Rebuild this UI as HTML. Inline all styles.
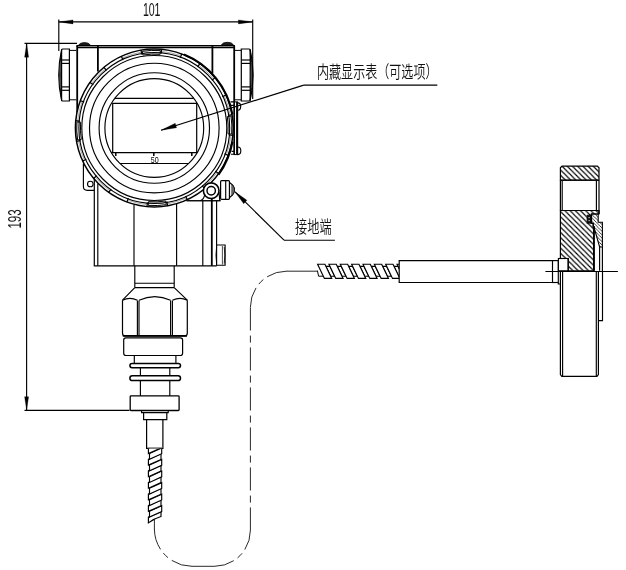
<!DOCTYPE html>
<html lang="zh-CN"><head><meta charset="utf-8"><title>drawing</title>
<style>
html,body{margin:0;padding:0;background:#fff;}
body{width:626px;height:570px;overflow:hidden;}
svg{display:block;}
svg *{vector-effect:none;}
</style></head>
<body>
<svg width="626" height="570" viewBox="0 0 626 570" stroke="#000" fill="none" stroke-linecap="butt" stroke-linejoin="miter">
<rect x="0" y="0" width="626" height="570" fill="#fff" stroke="none"/>
<g id="dims">
<line x1="58.80" y1="19.60" x2="58.80" y2="51.00" stroke-width="1.15" />
<line x1="252.70" y1="19.60" x2="252.70" y2="99.00" stroke-width="1.15" />
<line x1="58.70" y1="21.90" x2="252.70" y2="21.90" stroke-width="1.15" />
<path d="M58.7 21.9 L73 19.9 L73 23.9 Z" stroke-width="0.3" fill="#000" />
<path d="M252.7 21.9 L238.4 19.9 L238.4 23.9 Z" stroke-width="0.3" fill="#000" />
<line x1="24.50" y1="43.40" x2="77.00" y2="43.40" stroke-width="1.15" />
<line x1="24.50" y1="410.30" x2="129.50" y2="410.30" stroke-width="1.15" />
<line x1="26.60" y1="43.40" x2="26.60" y2="410.30" stroke-width="1.15" />
<path d="M26.6 43.6 L24.6 57.2 L28.6 57.2 Z" stroke-width="0.3" fill="#000" />
<path d="M26.6 410.1 L24.6 396.7 L28.6 396.7 Z" stroke-width="0.3" fill="#000" />
</g>
<g id="housing">
<path d="M78.6 45.2 Q80 42.6 84.5 42.6 Q89 42.6 90.4 45.2 Z" stroke-width="0.8" fill="#222" />
<path d="M221.2 45.2 Q222.6 42.3 227.4 42.3 Q232.2 42.3 233.6 45.2 Z" stroke-width="0.8" fill="#222" />
<line x1="76.40" y1="45.70" x2="234.90" y2="45.70" stroke-width="1.45" />
<line x1="77.00" y1="47.60" x2="234.00" y2="47.60" stroke-width="1.2" />
<line x1="77.20" y1="45.70" x2="77.20" y2="121.00" stroke-width="1.8" />
<line x1="234.20" y1="45.70" x2="234.20" y2="102.00" stroke-width="1.8" />
<line x1="97.90" y1="46.00" x2="97.90" y2="71.50" stroke-width="1.8" />
<line x1="212.40" y1="46.00" x2="212.40" y2="73.50" stroke-width="1.8" />
</g>
<g id="glands">
<path d="M69.4 50.4 H76.5 M69.4 99.8 H76.5" stroke-width="1.0" fill="none" />
<path d="M69.4 49.0 H62.6 Q61.6 49.0 61.6 50.0 V100.0 Q61.6 101.0 62.6 101.0 H69.4 Z" stroke-width="1.2" fill="none" />
<line x1="61.60" y1="60.00" x2="69.40" y2="60.00" stroke-width="1.2" />
<line x1="61.60" y1="63.40" x2="69.40" y2="63.40" stroke-width="1.2" />
<line x1="61.60" y1="86.90" x2="69.40" y2="86.90" stroke-width="1.2" />
<line x1="61.60" y1="90.30" x2="69.40" y2="90.30" stroke-width="1.2" />
<path d="M61.6 49.6 Q55.80 75.0 61.6 100.4" stroke-width="1.1" fill="none" />
<path d="M61.6 49.6 Q57.80 75.0 61.6 100.4" stroke-width="0.9" fill="none" />
<path d="M61.6 49.6 Q59.80 75.0 61.6 100.4" stroke-width="0.9" fill="none" />
<path d="M241.3 50.4 H234.8 M241.3 99.8 H234.8" stroke-width="1.0" fill="none" />
<path d="M241.3 49.0 H249.2 Q250.2 49.0 250.2 50.0 V100.0 Q250.2 101.0 249.2 101.0 H241.3 Z" stroke-width="1.2" fill="none" />
<line x1="250.20" y1="60.00" x2="241.30" y2="60.00" stroke-width="1.2" />
<line x1="250.20" y1="63.40" x2="241.30" y2="63.40" stroke-width="1.2" />
<line x1="250.20" y1="86.90" x2="241.30" y2="86.90" stroke-width="1.2" />
<line x1="250.20" y1="90.30" x2="241.30" y2="90.30" stroke-width="1.2" />
<path d="M250.2 49.6 Q256.00 75.0 250.2 100.4" stroke-width="1.1" fill="none" />
<path d="M250.2 49.6 Q254.00 75.0 250.2 100.4" stroke-width="0.9" fill="none" />
<path d="M250.2 49.6 Q252.00 75.0 250.2 100.4" stroke-width="0.9" fill="none" />
</g>
<g id="cover">
<circle cx="154.30" cy="128.00" r="78.90" stroke-width="0" fill="#fff"/>
<circle cx="154.30" cy="128.00" r="49.40" stroke-width="1.15" fill="none"/>
<circle cx="154.30" cy="128.00" r="55.20" stroke-width="1.15" fill="none"/>
<circle cx="154.30" cy="128.00" r="64.80" stroke-width="1.15" fill="none"/>
<circle cx="154.30" cy="128.00" r="72.50" stroke-width="1.15" fill="none"/>
<circle cx="154.30" cy="128.00" r="75.40" stroke-width="1.15" fill="none"/>
<circle cx="154.30" cy="128.00" r="78.90" stroke-width="1.5" fill="none"/>
<line x1="161.21" y1="53.52" x2="161.62" y2="49.14" stroke-width="1.25" />
<line x1="180.25" y1="57.85" x2="181.78" y2="53.72" stroke-width="1.25" />
<line x1="197.52" y1="66.95" x2="200.07" y2="63.36" stroke-width="1.25" />
<line x1="211.85" y1="80.22" x2="215.24" y2="77.41" stroke-width="1.25" />
<line x1="222.26" y1="96.74" x2="226.25" y2="94.90" stroke-width="1.25" />
<line x1="228.03" y1="115.40" x2="232.37" y2="114.66" stroke-width="1.25" />
<line x1="228.78" y1="134.91" x2="233.16" y2="135.32" stroke-width="1.25" />
<line x1="224.45" y1="153.95" x2="228.58" y2="155.48" stroke-width="1.25" />
<line x1="215.35" y1="171.22" x2="218.94" y2="173.77" stroke-width="1.25" />
<line x1="202.08" y1="185.55" x2="204.89" y2="188.94" stroke-width="1.25" />
<line x1="185.56" y1="195.96" x2="187.40" y2="199.95" stroke-width="1.25" />
<line x1="166.90" y1="201.73" x2="167.64" y2="206.07" stroke-width="1.25" />
<line x1="147.39" y1="202.48" x2="146.98" y2="206.86" stroke-width="1.25" />
<line x1="128.35" y1="198.15" x2="126.82" y2="202.28" stroke-width="1.25" />
<line x1="111.08" y1="189.05" x2="108.53" y2="192.64" stroke-width="1.25" />
<line x1="96.75" y1="175.78" x2="93.36" y2="178.59" stroke-width="1.25" />
<line x1="86.34" y1="159.26" x2="82.35" y2="161.10" stroke-width="1.25" />
<line x1="80.57" y1="140.60" x2="76.23" y2="141.34" stroke-width="1.25" />
<line x1="79.82" y1="121.09" x2="75.44" y2="120.68" stroke-width="1.25" />
<line x1="84.15" y1="102.05" x2="80.02" y2="100.52" stroke-width="1.25" />
<line x1="93.25" y1="84.78" x2="89.66" y2="82.23" stroke-width="1.25" />
<line x1="106.52" y1="70.45" x2="103.71" y2="67.06" stroke-width="1.25" />
<line x1="123.04" y1="60.04" x2="121.20" y2="56.05" stroke-width="1.25" />
<line x1="141.70" y1="54.27" x2="140.96" y2="49.93" stroke-width="1.25" />
<path d="M162.20 51.51 A76.9 76.9 0 0 1 180.22 55.60" stroke-width="0.5" fill="none" stroke="#555"/>
<path d="M199.39 65.71 A76.9 76.9 0 0 1 212.95 78.26" stroke-width="0.5" fill="none" stroke="#555"/>
<path d="M224.50 96.60 A76.9 76.9 0 0 1 229.96 114.25" stroke-width="0.5" fill="none" stroke="#555"/>
<path d="M230.97 115.99 A77.6 77.6 0 0 1 231.66 134.09" stroke-width="1.0" fill="none" />
<path d="M227.31 116.57 A73.9 73.9 0 0 1 227.97 133.80" stroke-width="1.0" fill="none" />
<line x1="227.31" y1="116.57" x2="230.97" y2="115.99" stroke-width="1.0" />
<line x1="227.97" y1="133.80" x2="231.66" y2="134.09" stroke-width="1.0" />
<path d="M230.79 135.90 A76.9 76.9 0 0 1 226.70 153.92" stroke-width="0.5" fill="none" stroke="#555"/>
<path d="M216.59 173.09 A76.9 76.9 0 0 1 204.04 186.65" stroke-width="0.5" fill="none" stroke="#555"/>
<path d="M185.70 198.20 A76.9 76.9 0 0 1 168.05 203.66" stroke-width="0.5" fill="none" stroke="#555"/>
<path d="M166.31 204.67 A77.6 77.6 0 0 1 148.21 205.36" stroke-width="1.0" fill="none" />
<path d="M165.73 201.01 A73.9 73.9 0 0 1 148.50 201.67" stroke-width="1.0" fill="none" />
<line x1="165.73" y1="201.01" x2="166.31" y2="204.67" stroke-width="1.0" />
<line x1="148.50" y1="201.67" x2="148.21" y2="205.36" stroke-width="1.0" />
<path d="M146.40 204.49 A76.9 76.9 0 0 1 128.38 200.40" stroke-width="0.5" fill="none" stroke="#555"/>
<path d="M109.21 190.29 A76.9 76.9 0 0 1 95.65 177.74" stroke-width="0.5" fill="none" stroke="#555"/>
<path d="M84.10 159.40 A76.9 76.9 0 0 1 78.64 141.75" stroke-width="0.5" fill="none" stroke="#555"/>
<path d="M77.63 140.01 A77.6 77.6 0 0 1 76.94 121.91" stroke-width="1.0" fill="none" />
<path d="M81.29 139.43 A73.9 73.9 0 0 1 80.63 122.20" stroke-width="1.0" fill="none" />
<line x1="81.29" y1="139.43" x2="77.63" y2="140.01" stroke-width="1.0" />
<line x1="80.63" y1="122.20" x2="76.94" y2="121.91" stroke-width="1.0" />
<path d="M77.81 120.10 A76.9 76.9 0 0 1 81.90 102.08" stroke-width="0.5" fill="none" stroke="#555"/>
<path d="M92.01 82.91 A76.9 76.9 0 0 1 104.56 69.35" stroke-width="0.5" fill="none" stroke="#555"/>
<path d="M122.90 57.80 A76.9 76.9 0 0 1 140.55 52.34" stroke-width="0.5" fill="none" stroke="#555"/>
<path d="M142.29 51.33 A77.6 77.6 0 0 1 160.39 50.64" stroke-width="1.0" fill="none" />
<path d="M142.87 54.99 A73.9 73.9 0 0 1 160.10 54.33" stroke-width="1.0" fill="none" />
<line x1="142.87" y1="54.99" x2="142.29" y2="51.33" stroke-width="1.0" />
<line x1="160.10" y1="54.33" x2="160.39" y2="50.64" stroke-width="1.0" />
<path d="M184.01 54.47 A79.3 79.3 0 0 1 232.40 114.23" stroke-width="2.0" fill="none" />
<path d="M232.40 141.77 A79.3 79.3 0 0 1 218.46 174.61" stroke-width="2.2" fill="none" />
</g>
<g id="display">
<line x1="114.75" y1="98.40" x2="193.85" y2="98.40" stroke-width="1.15" />
<line x1="111.46" y1="152.60" x2="197.14" y2="152.60" stroke-width="1.2" />
<line x1="119.95" y1="163.50" x2="188.65" y2="163.50" stroke-width="1.15" />
<path d="M112.7 152.6 V103.3 H196.7 V152.6" stroke-width="1.2" fill="none" />
<line x1="115.80" y1="152.60" x2="115.80" y2="156.00" stroke-width="1.5" />
<line x1="153.80" y1="152.60" x2="153.80" y2="156.00" stroke-width="1.5" />
<line x1="191.80" y1="152.60" x2="191.80" y2="156.00" stroke-width="1.5" />
</g>
<g id="latch">
<path d="M237.8 102.8 A2.9 3.7 0 0 1 237.8 110.2" stroke-width="1.15" fill="#fff" />
<path d="M237.8 147.0 A3.0 3.8 0 0 1 237.8 154.6" stroke-width="1.15" fill="#fff" />
<rect x="234.20" y="101.90" width="3.40" height="52.70" rx="0" stroke-width="1.0" fill="#fff"/>
<line x1="234.20" y1="101.90" x2="234.20" y2="154.60" stroke-width="1.5" />
<line x1="237.10" y1="101.90" x2="237.10" y2="154.60" stroke-width="2.0" />
<path d="M230.5 101.9 H234.2 M230.8 105.4 H234.2 M231 154.2 H234.2 M231.6 151.4 H234.2" stroke-width="1.15" fill="none" />
</g>
<g id="body">
<path d="M83.4 163.4 V186.5 Q83.4 190.3 87.2 190.3 H94.3" stroke-width="1.15" fill="none" />
<circle cx="90.30" cy="184.00" r="2.80" stroke-width="1.1" fill="none"/>
<line x1="94.30" y1="178.50" x2="94.30" y2="265.80" stroke-width="1.2" />
<line x1="97.80" y1="183.50" x2="97.80" y2="265.80" stroke-width="1.15" />
<line x1="134.00" y1="204.50" x2="134.00" y2="265.80" stroke-width="1.15" />
<line x1="176.60" y1="203.60" x2="176.60" y2="265.80" stroke-width="1.15" />
<line x1="202.80" y1="200.70" x2="202.80" y2="265.80" stroke-width="1.15" />
<line x1="211.80" y1="198.60" x2="211.80" y2="265.80" stroke-width="1.8" />
<line x1="216.60" y1="200.70" x2="216.60" y2="265.80" stroke-width="1.15" />
<line x1="186.50" y1="200.70" x2="220.50" y2="200.70" stroke-width="1.15" />
<line x1="93.80" y1="265.80" x2="216.70" y2="265.80" stroke-width="1.3" />
<path d="M216.6 245 H225.1 V265.2 H216.6" stroke-width="1.15" fill="none" />
<path d="M216.6 247 Q215.2 255 216.6 263.5" stroke-width="0.8" fill="none" />
<path d="M224.2 247 Q225.6 255 224.2 263.5" stroke-width="0.8" fill="none" />
<line x1="222.40" y1="246.00" x2="222.40" y2="264.50" stroke-width="0.7" />
</g>
<g id="boss">
<circle cx="211.20" cy="190.70" r="7.80" stroke-width="1.6" fill="#fff"/>
<circle cx="211.20" cy="190.70" r="4.20" stroke-width="1.45" fill="none"/>
<line x1="186.50" y1="200.70" x2="220.50" y2="200.70" stroke-width="1.15" />
<path d="M204.6 195.2 Q203.8 199.4 200.5 200.7" stroke-width="1.15" fill="none" />
<path d="M219.0 192 L219.8 200.7" stroke-width="1.15" fill="none" />
<rect x="220.60" y="180.70" width="8.90" height="18.60" rx="1.0" stroke-width="1.2" fill="#fff"/>
<line x1="225.70" y1="180.70" x2="225.70" y2="199.30" stroke-width="1.15" />
<path d="M229.5 182.6 Q234.4 185.5 234.4 190 Q234.4 194.5 229.5 197.4 Z" stroke-width="1.15" fill="#fff" />
<path d="M231.8 184.2 Q234.4 186.5 234.4 190 Q234.4 193.5 231.8 195.8 Z" stroke-width="0.6" fill="#777" />
</g>
<g id="process">
<path d="M134.8 265.8 V287.6 M174.2 265.8 V287.6" stroke-width="1.15" fill="none" />
<line x1="134.80" y1="283.20" x2="174.20" y2="283.20" stroke-width="1.15" />
<line x1="134.80" y1="287.60" x2="174.20" y2="287.60" stroke-width="1.15" />
<path d="M134.8 287.6 L122.5 300.2 M174.2 287.6 L187.3 300.2" stroke-width="1.15" fill="none" />
<path d="M122.5 300.2 V333 Q122.5 335.9 125 335.9 H184.8 Q187.3 335.9 187.3 333 V300.2" stroke-width="1.2" fill="none" />
<line x1="122.80" y1="335.90" x2="187.00" y2="335.90" stroke-width="1.6" />
<line x1="137.40" y1="300.40" x2="137.40" y2="335.50" stroke-width="1.15" />
<line x1="139.00" y1="300.40" x2="139.00" y2="335.50" stroke-width="1.15" />
<line x1="170.60" y1="300.40" x2="170.60" y2="335.50" stroke-width="1.15" />
<line x1="172.40" y1="300.40" x2="172.40" y2="335.50" stroke-width="1.15" />
<path d="M122.5 300.2 Q130 296.6 137.4 300.3" stroke-width="1.15" fill="none" />
<path d="M139 300.3 Q154.8 293 170.6 300.3" stroke-width="1.15" fill="none" />
<path d="M172.4 300.3 Q180 296.6 187.3 300.2" stroke-width="1.15" fill="none" />
<rect x="123.70" y="337.90" width="58.90" height="17.60" rx="2.2" stroke-width="1.2" fill="none"/>
<path d="M134.3 355.5 V363.4 M175.9 355.5 V363.4" stroke-width="1.15" fill="none" />
<rect x="129.90" y="363.40" width="50.60" height="4.40" rx="2.2" stroke-width="1.5" fill="none"/>
<rect x="129.90" y="375.80" width="50.60" height="4.80" rx="2.4" stroke-width="1.5" fill="none"/>
<path d="M140.4 367.8 V375.8 M169.8 367.8 V375.8 M140.4 380.6 V395.9 M169.8 380.6 V395.9" stroke-width="1.15" fill="none" />
<rect x="130.20" y="395.90" width="48.90" height="14.60" rx="0.8" stroke-width="1.3" fill="none"/>
<path d="M141.6 410.5 V412.6 H168.2 V410.5" stroke-width="1.15" fill="none" />
<path d="M143.6 412.6 V419.6 H166.8 V412.6" stroke-width="1.2" fill="none" />
<path d="M146.6 419.6 V448.3 H162.9 V419.6" stroke-width="1.2" fill="none" />
</g>
<defs><clipPath id="cv"><rect x="140" y="448.6" width="30" height="90"/></clipPath><clipPath id="ch"><rect x="310" y="255" width="89" height="32"/></clipPath></defs>
<g id="vspiral" clip-path="url(#cv)">
<path d="M148.4 517.12 L161.0 511.52 L161.0 516.50 Q154.5 518.30 148.4 522.90 Z" stroke-width="1.15" fill="#fff" />
<path d="M149.5 511.34 L161.7 505.74 L161.7 511.52 L149.5 517.12 Z" stroke-width="1.15" fill="#fff" />
<path d="M148.4 505.56 L161.0 499.96 L161.0 505.74 L148.4 511.34 Z" stroke-width="1.15" fill="#fff" />
<path d="M149.5 499.78 L161.7 494.18 L161.7 499.96 L149.5 505.56 Z" stroke-width="1.15" fill="#fff" />
<path d="M148.4 494.00 L161.0 488.40 L161.0 494.18 L148.4 499.78 Z" stroke-width="1.15" fill="#fff" />
<path d="M149.5 488.22 L161.7 482.62 L161.7 488.40 L149.5 494.00 Z" stroke-width="1.15" fill="#fff" />
<path d="M148.4 482.44 L161.0 476.84 L161.0 482.62 L148.4 488.22 Z" stroke-width="1.15" fill="#fff" />
<path d="M149.5 476.66 L161.7 471.06 L161.7 476.84 L149.5 482.44 Z" stroke-width="1.15" fill="#fff" />
<path d="M148.4 470.88 L161.0 465.28 L161.0 471.06 L148.4 476.66 Z" stroke-width="1.15" fill="#fff" />
<path d="M149.5 465.10 L161.7 459.50 L161.7 465.28 L149.5 470.88 Z" stroke-width="1.15" fill="#fff" />
<path d="M148.4 459.32 L161.0 453.72 L161.0 459.50 L148.4 465.10 Z" stroke-width="1.15" fill="#fff" />
<path d="M149.5 453.54 L161.7 447.94 L161.7 453.72 L149.5 459.32 Z" stroke-width="1.15" fill="#fff" />
<path d="M148.4 447.76 L161.0 442.16 L161.0 447.94 L148.4 453.54 Z" stroke-width="1.15" fill="#fff" />
<path d="M149.5 441.98 L161.7 436.38 L161.7 442.16 L149.5 447.76 Z" stroke-width="1.15" fill="#fff" />
</g>
<line x1="147.20" y1="447.60" x2="162.30" y2="447.60" stroke-width="1.0" stroke="#999"/>
<g id="phantom" stroke="#111">
<line x1="154.40" y1="519.50" x2="154.40" y2="529.20" stroke-width="0.9" />
<path d="M154.4 529 A37.5 37.5 0 0 0 191.9 566.3" stroke-width="0.9" fill="none" stroke-dasharray="21.55 4.7 6.4 4.7 22.55"/>
<line x1="191.70" y1="566.30" x2="214.60" y2="566.30" stroke-width="0.9" />
<path d="M214.4 566.3 A36 36 0 0 0 250.4 530.3" stroke-width="0.9" fill="none" stroke-dasharray="20.37 4.7 6.4 4.7 21.37"/>
<path d="M250.4 530.5 V307" stroke-width="0.9" fill="none" stroke-dasharray="23.1 4.8 7 5.1"/>
<path d="M250.4 307.2 A36 36 0 0 1 286.4 271.2" stroke-width="0.9" fill="none" stroke-dasharray="20.37 4.7 6.4 4.7 21.37"/>
<line x1="286.20" y1="271.20" x2="317.50" y2="271.20" stroke-width="0.9" />
</g>
<g id="hspiral" clip-path="url(#ch)">
<path d="M325.95 266.4 L330.00 266.4 L334.70 276.2 L330.65 276.2 Z" stroke-width="1.15" fill="#fff" />
<path d="M337.30 266.4 L341.35 266.4 L346.05 276.2 L342.00 276.2 Z" stroke-width="1.15" fill="#fff" />
<path d="M348.65 266.4 L352.70 266.4 L357.40 276.2 L353.35 276.2 Z" stroke-width="1.15" fill="#fff" />
<path d="M360.00 266.4 L364.05 266.4 L368.75 276.2 L364.70 276.2 Z" stroke-width="1.15" fill="#fff" />
<path d="M371.35 266.4 L375.40 266.4 L380.10 276.2 L376.05 276.2 Z" stroke-width="1.15" fill="#fff" />
<path d="M382.70 266.4 L386.75 266.4 L391.45 276.2 L387.40 276.2 Z" stroke-width="1.15" fill="#fff" />
<path d="M394.05 266.4 L398.10 266.4 L402.80 276.2 L398.75 276.2 Z" stroke-width="1.15" fill="#fff" />
<path d="M405.40 266.4 L409.45 266.4 L414.15 276.2 L410.10 276.2 Z" stroke-width="1.15" fill="#fff" />
<path d="M416.75 266.4 L420.80 266.4 L425.50 276.2 L421.45 276.2 Z" stroke-width="1.15" fill="#fff" />
<path d="M317.60 264.2 L324.90 264.2 L331.70 278.4 L324.40 278.4 Z" stroke-width="1.15" fill="#fff" />
<path d="M328.95 264.2 L336.25 264.2 L343.05 278.4 L335.75 278.4 Z" stroke-width="1.15" fill="#fff" />
<path d="M340.30 264.2 L347.60 264.2 L354.40 278.4 L347.10 278.4 Z" stroke-width="1.15" fill="#fff" />
<path d="M351.65 264.2 L358.95 264.2 L365.75 278.4 L358.45 278.4 Z" stroke-width="1.15" fill="#fff" />
<path d="M363.00 264.2 L370.30 264.2 L377.10 278.4 L369.80 278.4 Z" stroke-width="1.15" fill="#fff" />
<path d="M374.35 264.2 L381.65 264.2 L388.45 278.4 L381.15 278.4 Z" stroke-width="1.15" fill="#fff" />
<path d="M385.70 264.2 L393.00 264.2 L399.80 278.4 L392.50 278.4 Z" stroke-width="1.15" fill="#fff" />
<path d="M397.05 264.2 L404.35 264.2 L411.15 278.4 L403.85 278.4 Z" stroke-width="1.15" fill="#fff" />
<path d="M408.40 264.2 L415.70 264.2 L422.50 278.4 L415.20 278.4 Z" stroke-width="1.15" fill="#fff" />
</g>
<path d="M317.4 270.6 L318.6 276.2 H323.4" stroke-width="1.0" fill="none" />
<g id="tube">
<path d="M552.5 260.6 H399.2 V282.5 H552.5" stroke-width="1.2" fill="none" />
<rect x="552.50" y="260.60" width="5.80" height="21.90" rx="0" stroke-width="1.15" fill="none"/>
<path d="M558.3 282.5 V284 H560.4" stroke-width="1.15" fill="none" />
<rect x="558.40" y="258.50" width="9.80" height="12.30" rx="0" stroke-width="1.15" fill="#fff"/>
</g>
<defs><pattern id="hatch" x="0.6" y="0" width="5.2" height="5.2" patternUnits="userSpaceOnUse"><path d="M-1 -1 L6.2 6.2 M-1 4.2 L1 6.2 M4.2 -1 L6.2 1" stroke="#000" stroke-width="1.15" fill="none"/></pattern>
<pattern id="hatch2" width="3.4" height="3.4" patternUnits="userSpaceOnUse"><path d="M-1 -1 L4.4 4.4 M-1 2.4 L1 4.4 M2.4 -1 L4.4 1" stroke="#111" stroke-width="0.8" fill="none"/></pattern></defs>
<g id="flange">
<path d="M562 166.1 H597.4 L599 167.8 V180.2 H560.4 V167.8 Z" stroke-width="1.2" fill="url(#hatch)" />
<path d="M560.4 180.2 V210.5 M599 180.2 V214" stroke-width="1.2" fill="none" />
<path d="M562.2 180.2 V210.5 M596.4 180.2 V210.5" stroke-width="1.15" fill="none" />
<line x1="560.40" y1="180.20" x2="599.00" y2="180.20" stroke-width="1.15" />
<path d="M560.4 210.5 H599 V214 H591.3 V223.4 H593.2 V227 H594 V270.8 H568.2 V258.5 H560.4 Z" stroke-width="1.2" fill="url(#hatch)" />
<rect x="587.10" y="215.20" width="4.00" height="8.00" rx="0" stroke-width="0.8" fill="#111"/>
<circle cx="589.1" cy="217.6" r="0.6" fill="#fff" stroke="none"/><circle cx="589.1" cy="220.6" r="0.6" fill="#fff" stroke="none"/>
<path d="M591.6 214 H598.2 V222.2 H602.4 V247 H599.6 L594.2 228 V226.6 H593.2 V223.2 H591.6 Z" stroke-width="1.1" fill="url(#hatch2)" />
<path d="M593.9 227 V270.8" stroke-width="1.8" fill="none" />
<path d="M599.6 247 V270.8 M602.4 247 V271" stroke-width="1.15" fill="none" />
<path d="M560.4 271.5 V374.6 L561.8 376.3 H597 L598.4 374.6 V271.5" stroke-width="1.2" fill="none" />
<path d="M562.6 271.5 V376 M596.3 271.5 V376" stroke-width="1.15" fill="none" />
<path d="M598.4 320.6 H602.5 V271.5" stroke-width="1.15" fill="none" />
<line x1="545.40" y1="271.50" x2="617.90" y2="271.50" stroke-width="1.15" />
</g>
<g id="leaders">
<line x1="161.10" y1="130.20" x2="303.80" y2="85.10" stroke-width="1.15" />
<line x1="303.80" y1="85.10" x2="437.30" y2="85.10" stroke-width="1.15" />
<path d="M161.10 130.20 L176.57 127.72 L175.19 123.34 Z" stroke-width="0.3" fill="#000" />
<line x1="235.00" y1="191.80" x2="284.00" y2="240.20" stroke-width="1.15" />
<line x1="284.00" y1="240.20" x2="334.90" y2="240.20" stroke-width="1.15" />
<path d="M235.00 191.80 L243.70 203.63 L246.93 200.35 Z" stroke-width="0.3" fill="#000" />
</g>
<g id="text" stroke="none" fill="#111" opacity="0.999">
<text x="151.7" y="16" font-size="18" text-anchor="middle" textLength="17.6" lengthAdjust="spacingAndGlyphs" font-family="'Liberation Sans', sans-serif">101</text>
<text transform="translate(21,219) rotate(-90)" font-size="18" text-anchor="middle" textLength="19.2" lengthAdjust="spacingAndGlyphs" font-family="'Liberation Sans', sans-serif">193</text>
<text x="154.7" y="162.8" font-size="8.2" text-anchor="middle" textLength="7.9" fill="#000" lengthAdjust="spacingAndGlyphs" font-family="'Liberation Sans', sans-serif">50</text>
<text x="317" y="78" font-size="17" font-weight="350" textLength="120.5" lengthAdjust="spacingAndGlyphs" font-family="'Liberation Sans', 'Noto Sans CJK SC', sans-serif">内藏显示表（可选项）</text>
<text x="295" y="233" font-size="17" font-weight="350" textLength="36.6" lengthAdjust="spacingAndGlyphs" font-family="'Liberation Sans', 'Noto Sans CJK SC', sans-serif">接地端</text>
</g>
</svg>
</body></html>
